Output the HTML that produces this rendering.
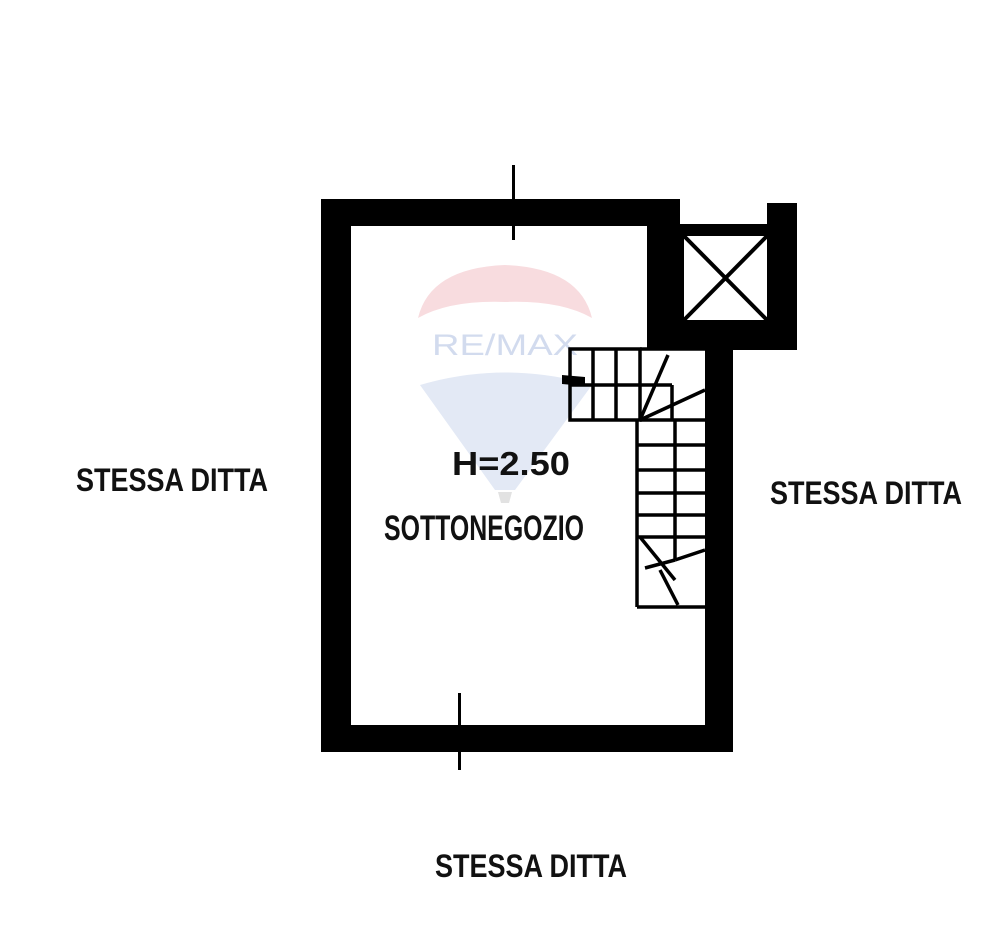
<!DOCTYPE html>
<html><head><style>
body{margin:0;background:#fff;}
svg{display:block}
text{font-family:"Liberation Sans",sans-serif;font-weight:bold;fill:#111}
</style></head><body>
<svg width="1000" height="942" viewBox="0 0 1000 942">
<!-- watermark -->
<path d="M418 318 Q430 268 505 265 Q580 268 592 318 Q560 300 505 302 Q450 300 418 318Z" fill="#f8dcdf"/>
<text x="432" y="355" font-size="30" style="fill:#d2dbee;font-weight:normal" textLength="146" lengthAdjust="spacingAndGlyphs">RE/MAX</text>
<path d="M420 385 Q505 360 592 385 L515 490 L495 490Z" fill="#e3e9f5"/>
<path d="M498 492 L512 492 L509 503 L501 503Z" fill="#e2e2e2"/>
<!-- walls -->
<g fill="#000">
<rect x="324" y="199" width="356" height="27"/>
<rect x="321" y="199" width="30" height="553"/>
<rect x="321" y="725" width="410" height="27"/>
<rect x="705" y="348" width="28" height="404"/>
<rect x="647" y="199" width="33" height="151"/>
<rect x="647" y="320" width="150" height="30"/>
<rect x="767" y="203" width="30" height="147"/>
<rect x="678" y="224" width="95" height="12"/>
<rect x="678" y="224" width="6" height="100"/>
<rect x="512" y="165" width="3" height="75"/>
<rect x="458" y="693" width="3" height="77"/>
</g>
<!-- closet X -->
<g stroke="#000" stroke-width="4">
<line x1="684" y1="236" x2="767" y2="320"/>
<line x1="767" y1="236" x2="684" y2="320"/>
</g>
<!-- stairs -->
<g stroke="#000" stroke-width="3.5" fill="none">
<rect x="570" y="349" width="70" height="71"/>
<line x1="593" y1="349" x2="593" y2="420"/>
<line x1="616" y1="349" x2="616" y2="420"/>
<line x1="570" y1="385" x2="672" y2="385"/>
<line x1="640" y1="349" x2="705" y2="349"/>
<line x1="640" y1="420" x2="705" y2="420"/>
<line x1="640" y1="420" x2="668" y2="355"/>
<line x1="640" y1="420" x2="705" y2="390"/>
<line x1="672" y1="385" x2="672" y2="420"/>
<line x1="637" y1="420" x2="637" y2="607"/>
<line x1="637" y1="607" x2="705" y2="607"/>
<line x1="675" y1="420" x2="675" y2="560"/>
<line x1="637" y1="445" x2="705" y2="445"/>
<line x1="637" y1="470" x2="705" y2="470"/>
<line x1="637" y1="493" x2="705" y2="493"/>
<line x1="637" y1="515" x2="705" y2="515"/>
<line x1="637" y1="537" x2="705" y2="537"/>
<line x1="640" y1="537" x2="675" y2="580"/>
<line x1="675" y1="560" x2="705" y2="550"/>
<line x1="645" y1="568" x2="675" y2="560"/>
<line x1="660" y1="570" x2="678" y2="605"/>
</g>
<path d="M562 375 L585 377 L585 386 L562 384Z" fill="#000"/>
<!-- labels -->
<text x="76" y="491" font-size="32" textLength="192" lengthAdjust="spacingAndGlyphs">STESSA DITTA</text>
<text x="770" y="504" font-size="32" textLength="192" lengthAdjust="spacingAndGlyphs">STESSA DITTA</text>
<text x="435" y="877" font-size="32" textLength="192" lengthAdjust="spacingAndGlyphs">STESSA DITTA</text>
<text x="452" y="475" font-size="33" textLength="118" lengthAdjust="spacingAndGlyphs">H=2.50</text>
<text x="384" y="540" font-size="35" textLength="200" lengthAdjust="spacingAndGlyphs">SOTTONEGOZIO</text>
</svg>
</body></html>
